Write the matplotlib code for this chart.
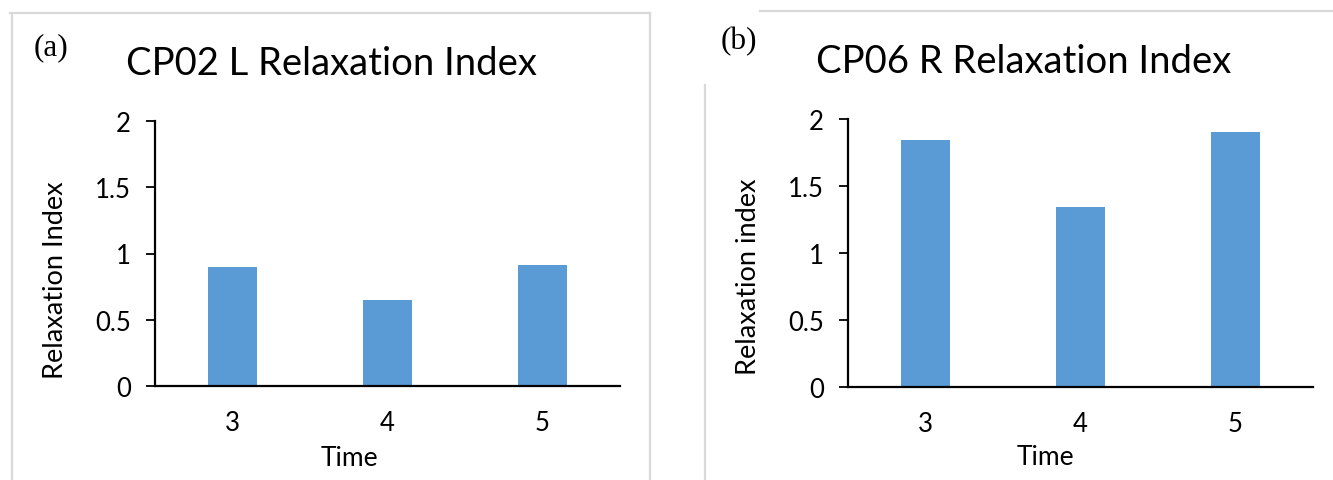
import matplotlib
matplotlib.use("Agg")
import matplotlib.pyplot as plt
from matplotlib.lines import Line2D

# Data
categories = ["3", "4", "5"]
cp02_values = [0.90, 0.65, 0.91]
cp06_values = [1.84, 1.34, 1.90]
yticks = [0, 0.5, 1, 1.5, 2]
ytick_labels = ["0", "0.5", "1", "1.5", "2"]
titles = ["CP02 L Relaxation Index", "CP06 R Relaxation Index"]
ylabels = ["Relaxation Index", "Relaxation index"]
panel_tags = ["(a)", "(b)"]

W, H = 1333, 481
BAR = "#5B9BD5"
FRAME = "#D9D9D9"
SANS = "Lato"

fig = plt.figure(figsize=(W / 100, H / 100), dpi=100)


def fx(px):
    return px / W


def fy(py):
    return 1 - py / H


def line(x0, y0, x1, y1):
    fig.add_artist(Line2D([fx(x0), fx(x1)], [fy(y0), fy(y1)],
                          transform=fig.transFigure, color=FRAME, lw=1.6))


# panel frames
line(10, 14, 650, 14)
line(12, 14, 12, 481)
line(650, 14, 650, 481)
line(760, 12, 1333, 12)
line(705, 86, 705, 481)


def panel(left_px, right_px, top_px, bottom_px, values, title, title_xy,
          ylabel, ylab_coords, xlab_coords, tag, tag_xy):
    ax = fig.add_axes([fx(left_px), fy(bottom_px), fx(right_px - left_px),
                       (bottom_px - top_px) / H])
    x = list(range(len(categories)))
    ax.bar(x, values, width=0.315, color=BAR, zorder=2)
    ax.set_xlim(-0.5, len(categories) - 0.5)
    ax.set_ylim(0, 2)
    ax.set_yticks(yticks)
    ax.set_yticklabels(ytick_labels)
    ax.set_xticks(x)
    ax.set_xticklabels(categories)
    for s in ["top", "right"]:
        ax.spines[s].set_visible(False)
    for s in ["left", "bottom"]:
        ax.spines[s].set_linewidth(1.6)
        ax.spines[s].set_color("black")
    ax.tick_params(axis="y", length=6.5, width=1.3, pad=11, labelsize=18.5)
    ax.tick_params(axis="x", length=0, pad=17, labelsize=18.5)
    for lab in ax.get_xticklabels() + ax.get_yticklabels():
        lab.set_family(SANS)
    ax.set_ylabel(ylabel, fontsize=19.5, family=SANS)
    ax.yaxis.set_label_coords(*ylab_coords)
    ax.yaxis.label.set_va("center")
    ax.set_xlabel("Time", fontsize=19, family=SANS)
    ax.xaxis.set_label_coords(*xlab_coords)
    ax.xaxis.label.set_va("center")
    fig.text(fx(title_xy[0]), fy(title_xy[1]), title, fontsize=27.5,
             family=SANS, ha="center", va="center")
    fig.text(fx(tag_xy[0]), fy(tag_xy[1]), tag, fontsize=22.5,
             family="Liberation Serif", ha="left", va="center")
    return ax


panel(155, 620, 122, 387, cp02_values, titles[0], (331, 64),
      ylabels[0], (-0.213, 0.404), (0.419, -0.268), panel_tags[0], (34, 48))
panel(848, 1313, 120, 388, cp06_values, titles[1], (1024, 62),
      ylabels[1], (-0.215, 0.414), (0.424, -0.261), panel_tags[1], (721, 42))

fig.savefig("out.png", dpi=100)
